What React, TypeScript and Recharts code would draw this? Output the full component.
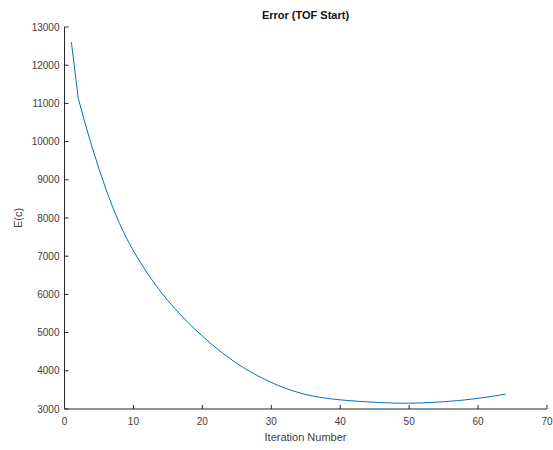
import * as React from "react";
import { LineChart, Line, XAxis, YAxis } from "recharts";

const iterations = Array.from({ length: 64 }, (_, i) => i + 1);

// E(c) per iteration
const errorValues = [
  12600, 11130, 10470, 9860, 9290, 8760, 8280, 7850, 7470, 7140,
  6840, 6560, 6300, 6060, 5840, 5630, 5435, 5250, 5075, 4910,
  4750, 4598, 4455, 4320, 4195, 4080, 3972, 3872, 3780, 3695,
  3617, 3547, 3484, 3428, 3380, 3340, 3307, 3280, 3258, 3240,
  3224, 3210, 3197, 3186, 3176, 3167, 3160, 3155, 3152, 3152,
  3155, 3161, 3169, 3179, 3191, 3205, 3220, 3237, 3257, 3280,
  3305, 3331, 3359, 3390,
];

const xTicks = [0, 10, 20, 30, 40, 50, 60, 70];
const yTicks = [3000, 4000, 5000, 6000, 7000, 8000, 9000, 10000, 11000, 12000, 13000];

const data = iterations.map((it, i) => ({ it, e: errorValues[i] }));

const AXIS = "#262626";
const TEXT = "#404040";
const FONT = "'Liberation Sans', Helvetica, Arial, sans-serif";

function LeftTick({ x, y, payload }: any) {
  return (
    <g>
      <line x1={x + 5} x2={x + 9} y1={y} y2={y} stroke={AXIS} strokeWidth={1} />
      <text x={x} y={y} dy={3.6} textAnchor="end" fontSize={10} fill={TEXT} fontFamily={FONT}>
        {payload.value}
      </text>
    </g>
  );
}

function BottomTick({ x, y, payload }: any) {
  return (
    <g>
      <line x1={x} x2={x} y1={y - 4} y2={y} stroke={AXIS} strokeWidth={1} />
      <text x={x} y={y + 16} textAnchor="middle" fontSize={10} fill={TEXT} fontFamily={FONT}>
        {payload.value}
      </text>
    </g>
  );
}

function TopTick({ x, y }: any) {
  return <line x1={x} x2={x} y1={y} y2={y + 4} stroke={AXIS} strokeWidth={1} />;
}

function RightTick({ x, y }: any) {
  return <line x1={x - 4} x2={x} y1={y} y2={y} stroke={AXIS} strokeWidth={1} />;
}

export default function App() {
  return (
    <div style={{ position: "absolute", left: 0, top: 0, width: 553, height: 450, background: "#fff", fontFamily: FONT }}>
      <LineChart width={553} height={450} data={data} margin={{ top: 27, right: 6, bottom: 0, left: 0 }}>
        <XAxis
          dataKey="it"
          type="number"
          domain={[0, 70]}
          ticks={xTicks}
          interval={0}
          height={41}
          tickSize={0}
          tickMargin={0}
          tick={<BottomTick />}
          axisLine={{ stroke: AXIS }}
          tickLine={false}
        />
        <XAxis
          xAxisId="top"
          orientation="top"
          type="number"
          domain={[0, 70]}
          ticks={xTicks}
          interval={0}
          height={0}
          tickSize={0}
          tickMargin={0}
          tick={<TopTick />}
          axisLine={{ stroke: AXIS }}
          tickLine={false}
        />
        <YAxis
          type="number"
          domain={[3000, 13000]}
          ticks={yTicks}
          interval={0}
          width={64.5}
          tickSize={0}
          tickMargin={5}
          tick={<LeftTick />}
          axisLine={{ stroke: AXIS }}
          tickLine={false}
        />
        <YAxis
          yAxisId="right"
          orientation="right"
          type="number"
          domain={[3000, 13000]}
          ticks={yTicks}
          interval={0}
          width={0}
          tickSize={0}
          tickMargin={0}
          tick={<RightTick />}
          axisLine={{ stroke: AXIS }}
          tickLine={false}
        />
        <Line
          type="linear"
          dataKey="e"
          stroke="#0072BD"
          strokeWidth={1}
          dot={false}
          isAnimationActive={false}
        />
      </LineChart>
      <div style={{ position: "absolute", left: 64, width: 483, top: 7, textAlign: "center", fontSize: 11, fontWeight: "bold", color: "#111", lineHeight: "16px" }}>
        Error (TOF Start)
      </div>
      <div style={{ position: "absolute", left: 64, width: 483, top: 429, textAlign: "center", fontSize: 11, color: TEXT, lineHeight: "16px" }}>
        Iteration Number
      </div>
      <div style={{ position: "absolute", left: 18, top: 218, width: 0, height: 0 }}>
        <div style={{ position: "absolute", transform: "translate(-50%, -50%) rotate(-90deg)", fontSize: 11, color: TEXT, lineHeight: "14px", whiteSpace: "nowrap" }}>
          E(c)
        </div>
      </div>
    </div>
  );
}
